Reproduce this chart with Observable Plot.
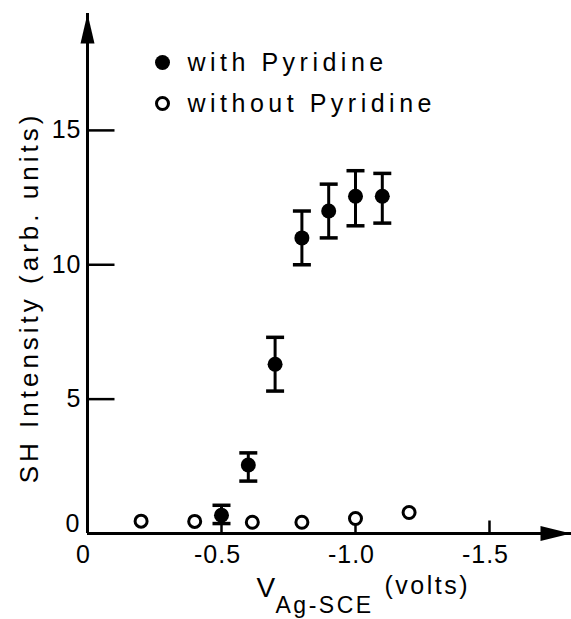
<!DOCTYPE html>
<html><head><meta charset="utf-8">
<script src="https://cdn.jsdelivr.net/npm/d3@7"></script>
<script src="https://cdn.jsdelivr.net/npm/@observablehq/plot@0.6"></script>
<style>
body{margin:0;background:#fff}
svg{display:block}
g[aria-description="legend"] text{letter-spacing:4.5px}
g[aria-description="ylabel"] text{letter-spacing:4px}
g[aria-description="xlabel"] text{letter-spacing:2.5px}
g[aria-description="ticklabel"] text{letter-spacing:1px}
</style>
</head><body><div id="chart"></div>
<script>
// ---- data ----
const xDomain = [0, -1.806];
const yDomain = [0, 19.35];
const withX  = [-0.5, -0.6, -0.7, -0.8, -0.9, -1.0, -1.1];
const withY  = [0.68, 2.55, 6.3, 11.0, 12.0, 12.55, 12.55];
const withLo = [0.37, 1.95, 5.3, 10.0, 11.0, 11.45, 11.55];
const withHi = [1.05, 3.0, 7.3, 12.0, 13.0, 13.5, 13.4];
const withoutX = [-0.2, -0.4, -0.615, -0.8, -1.0, -1.2];
const withoutY = [0.46, 0.45, 0.42, 0.42, 0.56, 0.78];
const yTicks = [5, 10, 15];
const yTickLabels = ["5", "10", "15"];
const yZeroLabel = ["0"];
const xTicks = [-0.5, -1.0, -1.5];
const xTickLabels = ["0", "-0.5", "-1.0", "-1.5"];
const xTickLabelValues = [0, -0.5, -1.0, -1.5];
const legendLabels = ["with Pyridine", "without Pyridine"];
const yLabel = "SH Intensity (arb. units)";
const xLabelMain = "V", xLabelSub = "Ag-SCE", xLabelUnit = "(volts)";

// ---- tables ----
const withData = withX.map((x, i) => ({x, y: withY[i], lo: withLo[i], hi: withHi[i]}));
const withoutData = withoutX.map((x, i) => ({x, y: withoutY[i]}));

// ---- custom symbols (pixel shapes) ----
const arrowUp = {draw(c){c.moveTo(0,0);c.lineTo(-7,30);c.lineTo(7,30);c.closePath();}};
const arrowRight = {draw(c){c.moveTo(0,0);c.lineTo(-31,-7.5);c.lineTo(-31,7.5);c.closePath();}};
const tickRight = {draw(c){c.moveTo(0,0);c.lineTo(27,0);}};
const tickUp = {draw(c){c.moveTo(0,0);c.lineTo(0,-13);}};
const cap = {draw(c){c.moveTo(-9,0);c.lineTo(9,0);}};

const font = "Liberation Sans";
const marks = [
  Plot.ruleY([yDomain[0]], {x1: xDomain[0], x2: xDomain[1], stroke: "black", strokeWidth: 3}),
  Plot.ruleX([xDomain[0]], {y1: yDomain[0], y2: yDomain[1], stroke: "black", strokeWidth: 3}),
  Plot.dot([0], {x: () => xDomain[0], y: () => yDomain[1], symbol: arrowUp, fill: "black", stroke: "none"}),
  Plot.dot([0], {x: () => xDomain[1], y: () => yDomain[0], symbol: arrowRight, fill: "black", stroke: "none"}),
  Plot.dot(yTicks, {x: () => xDomain[0], y: d => d, symbol: tickRight, fill: "none", stroke: "black", strokeWidth: 2.5}),
  Plot.dot(xTicks, {x: d => d, y: () => yDomain[0], symbol: tickUp, fill: "none", stroke: "black", strokeWidth: 2.5}),
  Plot.text(yTickLabels, {x: () => xDomain[0], y: (d, i) => yTicks[i], text: d => d, textAnchor: "end", dx: -6, fontSize: 25, fontFamily: font, ariaDescription: "ticklabel", fill: "black"}),
  Plot.text(yZeroLabel, {x: () => xDomain[0], y: () => yDomain[0], text: d => d, textAnchor: "end", dx: -7, dy: -10, fontSize: 25, fontFamily: font, ariaDescription: "ticklabel", fill: "black"}),
  Plot.text(xTickLabels, {x: (d, i) => xTickLabelValues[i], y: () => yDomain[0], text: d => d, textAnchor: "middle", dx: -4, dy: 21, fontSize: 25, fontFamily: font, ariaDescription: "ticklabel", fill: "black"}),
  // error bars
  Plot.ruleX(withData, {x: "x", y1: "lo", y2: "hi", stroke: "black", strokeWidth: 3}),
  Plot.dot(withData, {x: "x", y: "lo", symbol: cap, fill: "none", stroke: "black", strokeWidth: 3.5}),
  Plot.dot(withData, {x: "x", y: "hi", symbol: cap, fill: "none", stroke: "black", strokeWidth: 3.5}),
  // points
  Plot.dot(withData, {x: "x", y: "y", r: 7.5, fill: "black", stroke: "none"}),
  Plot.dot(withoutData, {x: "x", y: "y", r: 6, fill: "white", stroke: "black", strokeWidth: 3}),
  // legend
  ...legendLabels.flatMap((label, i) => [
    Plot.dot([label], {frameAnchor: "top-left", dx: 75, dy: 49 + 41 * i, r: i === 0 ? 7.5 : 6,
      fill: i === 0 ? "black" : "white", stroke: i === 0 ? "none" : "black", strokeWidth: 3}),
    Plot.text([label], {frameAnchor: "top-left", text: d => d, textAnchor: "start", lineAnchor: "bottom",
      dx: 100, dy: 57 + 41 * i, fontSize: 25, fontFamily: font, ariaDescription: "legend", fill: "black"})
  ]),
  // axis labels
  Plot.text([yLabel], {frameAnchor: "left", text: d => d, textAnchor: "middle", rotate: -90, dx: -58, dy: 24, fontSize: 26, fontFamily: font, ariaDescription: "ylabel", fill: "black"}),
  Plot.text([xLabelMain], {frameAnchor: "bottom", text: d => d, textAnchor: "start", lineAnchor: "bottom", dx: -73, dy: 63, fontSize: 28, fontFamily: font, ariaDescription: "xlabel", fill: "black"}),
  Plot.text([xLabelSub], {frameAnchor: "bottom", text: d => d, textAnchor: "start", lineAnchor: "bottom", dx: -54, dy: 79, fontSize: 23, fontFamily: font, ariaDescription: "xlabel", fill: "black"}),
  Plot.text([xLabelUnit], {frameAnchor: "bottom", text: d => d, textAnchor: "start", lineAnchor: "bottom", dx: 55, dy: 60, fontSize: 25, fontFamily: font, ariaDescription: "xlabel", fill: "black"})
];

const chart = Plot.plot({
  width: 571, height: 619,
  marginLeft: 87, marginRight: 0, marginTop: 13, marginBottom: 86,
  x: {domain: xDomain, axis: null},
  y: {domain: yDomain, axis: null},
  style: {fontFamily: font, background: "white", color: "black", overflow: "visible"},
  marks
});
document.getElementById("chart").appendChild(chart);
</script>
</body></html>
